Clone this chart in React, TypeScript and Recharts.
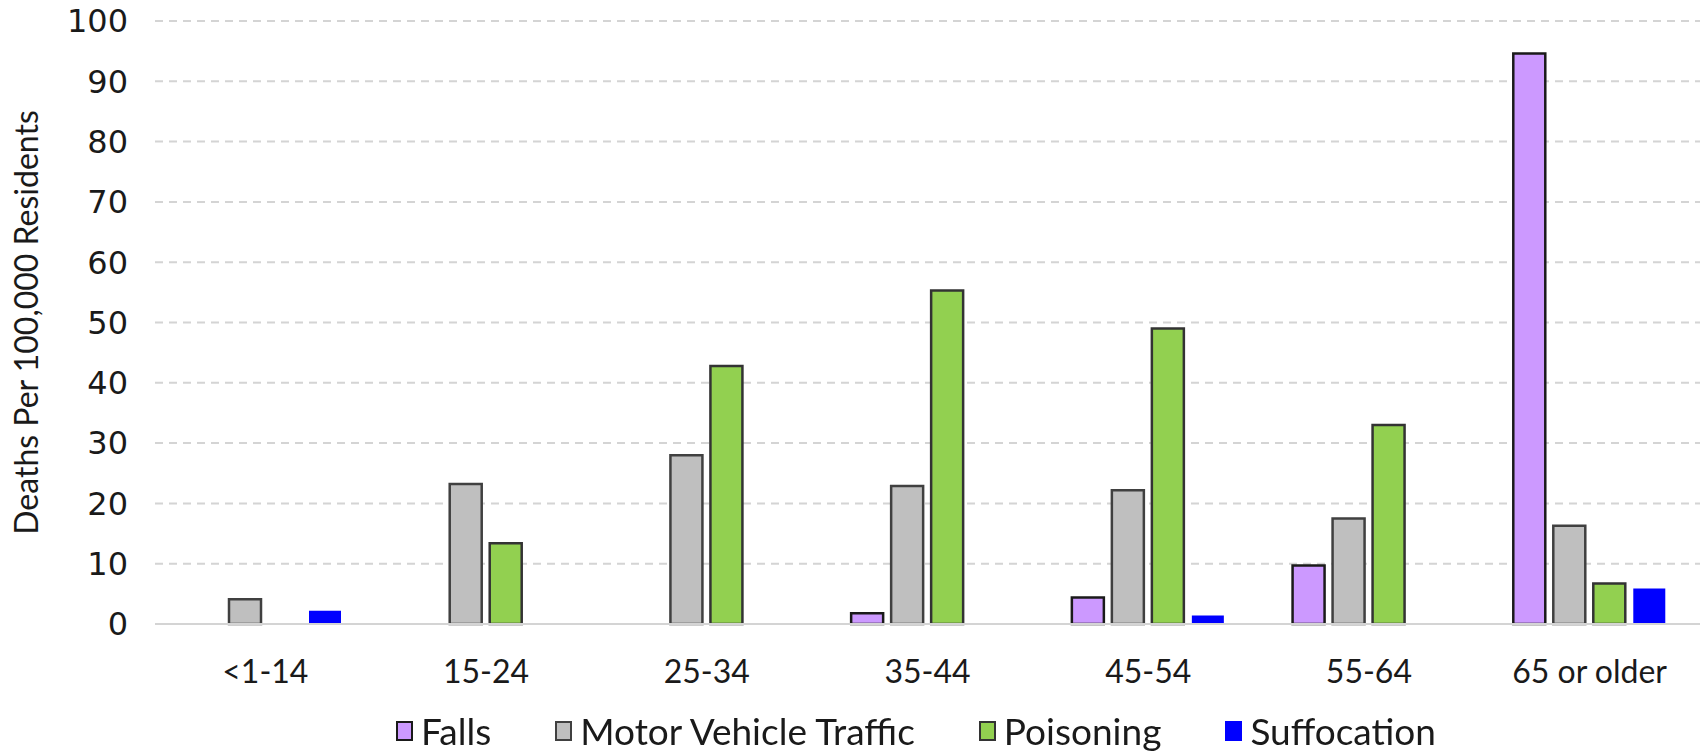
import React from 'react';
import { BarChart, Bar, XAxis, YAxis, CartesianGrid, Legend } from 'recharts';

const categories = ['<1-14', '15-24', '25-34', '35-44', '45-54', '55-64', '65 or older'];
const falls = [null, null, null, 1.8, 4.4, 9.7, 94.6];
const motorVehicle = [4.1, 23.2, 28.0, 22.9, 22.2, 17.5, 16.3];
const poisoning = [null, 13.4, 42.8, 55.3, 49.0, 33.0, 6.7];
const suffocation = [2.2, null, null, null, 1.4, null, 5.9];
const yTicks = [0, 10, 20, 30, 40, 50, 60, 70, 80, 90, 100];

const seriesInfo = [
  { key: 'falls', name: 'Falls', fill: '#CC99FF', stroke: '#1a1a1a', sw: 2.5 },
  { key: 'motor', name: 'Motor Vehicle Traffic', fill: '#BFBFBF', stroke: '#404040', sw: 2.5 },
  { key: 'poison', name: 'Poisoning', fill: '#92D050', stroke: '#333333', sw: 2.5 },
  { key: 'suff', name: 'Suffocation', fill: '#0000FF', stroke: 'none', sw: 0 },
];

const data = categories.map((c, i) => ({
  category: c,
  falls: falls[i],
  motor: motorVehicle[i],
  poison: poisoning[i],
  suff: suffocation[i],
}));

const XTick = (props: any) => {
  const { x, y, payload } = props;
  return (
    <text x={x} y={y + 51} textAnchor="middle" fill="#1a1a1a" fontFamily="Lato" fontSize={32}>
      {payload.value}
    </text>
  );
};

const LegendContent = () => (
  <div
    style={{
      display: 'flex',
      justifyContent: 'center',
      alignItems: 'center',
      height: 47,
      gap: 64,
      fontFamily: 'Lato',
      fontSize: 37,
      color: '#1a1a1a',
      paddingTop: 6,
      paddingLeft: 132,
      boxSizing: 'border-box',
    }}
  >
    {seriesInfo.map((s) => (
      <div key={s.key} style={{ display: 'flex', alignItems: 'center' }}>
        <div
          style={{
            width: 17,
            height: 20,
            background: s.fill,
            border: s.sw ? `2px solid ${s.stroke}` : 'none',
            boxSizing: 'border-box',
            marginRight: 8,
          }}
        />
        <span style={{ lineHeight: '42px' }}>{s.name}</span>
      </div>
    ))}
  </div>
);

export default function App() {
  return (
    <div style={{ position: 'fixed', left: 0, top: 0, width: 1705, height: 751, background: '#fff' }}>
      <BarChart
        width={1705}
        height={751}
        data={data}
        margin={{ top: 21, right: 5, left: 0, bottom: 0 }}
        barSize={32}
        barGap={8}
      >
        <CartesianGrid
          horizontal={true}
          vertical={false}
          stroke="#d4d4d4"
          strokeWidth={2}
          strokeDasharray="8 6"
        />
        <XAxis
          dataKey="category"
          height={80}
          tickLine={false}
          axisLine={{ stroke: '#d4d4d4', strokeWidth: 2 }}
          tick={<XTick />}
          interval={0}
        />
        <YAxis
          width={155}
          domain={[0, 100]}
          ticks={yTicks}
          interval={0}
          tickLine={false}
          axisLine={false}
          tickSize={0}
          tickMargin={27}
          tick={{ fill: '#1a1a1a', fontFamily: 'DejaVu Sans', fontSize: 32 }}
          label={{
            value: 'Deaths Per 100,000 Residents',
            angle: -90,
            position: 'insideLeft',
            dx: 22,
            style: { textAnchor: 'middle', fontFamily: 'Lato', fontSize: 32, fill: '#1a1a1a' },
          }}
        />
        <Legend verticalAlign="bottom" wrapperStyle={{ height: 47 }} content={<LegendContent />} />
        {seriesInfo.map((s) => (
          <Bar
            key={s.key}
            dataKey={s.key}
            name={s.name}
            fill={s.fill}
            stroke={s.stroke}
            strokeWidth={s.sw}
            isAnimationActive={false}
          />
        ))}
      </BarChart>
    </div>
  );
}
